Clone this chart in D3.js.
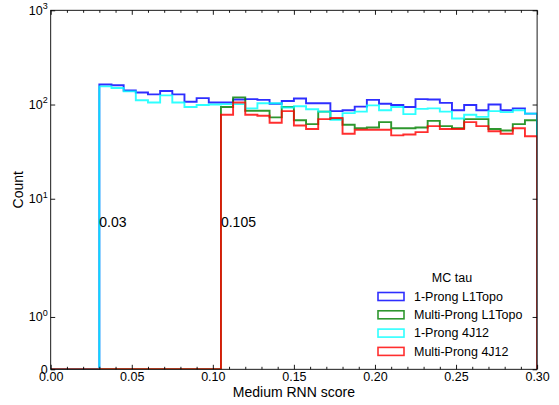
<!DOCTYPE html>
<html>
<head>
<meta charset="utf-8">
<script src="https://cdn.jsdelivr.net/npm/d3@7"></script>
<style>
  html, body { margin: 0; padding: 0; background: #fff; }
  svg { display: block; font-family: "Liberation Sans", Arial, Helvetica, sans-serif; }
</style>
</head>
<body>
<svg id="chart" width="559" height="405"></svg>
<script>
// Histogram binning of the Medium RNN score: 40 bins of width 0.0075 on [0, 0.30]
const scoreMin = 0.0;
const scoreMax = 0.30;
const nBins = 40;

// Per-bin counts (bin 0 starts at score 0.0)
const oneProngL1Topo = [0, 0, 0, 0, 163, 160, 141, 134, 128, 139, 128, 107, 117, 105, 105, 113, 114, 112, 102, 109,
  116, 103, 103, 85, 87, 95, 112, 102, 99, 94, 114, 113, 104, 87, 99, 87, 100, 87, 91, 80];
const multiProngL1Topo = [0, 0, 0, 0, 0, 0, 0, 0, 0, 0, 0, 0, 0, 0, 94, 119, 86, 86, 73, 94,
  68, 62, 84, 70, 61, 56, 57, 65, 56, 56, 57, 67, 59, 56, 70, 70, 55, 53, 62, 68];
const oneProng4J12 = [0, 0, 0, 0, 156, 150, 138, 111, 105, 125, 105, 94, 99, 100, 101, 101, 91, 103, 103, 93,
  96, 89, 84, 69, 81, 84, 98, 87, 94, 79, 90, 91, 84, 71, 78, 74, 85, 83, 87, 80];
const multiProng4J12 = [0, 0, 0, 0, 0, 0, 0, 0, 0, 0, 0, 0, 0, 0, 78, 105, 78, 76, 64, 85,
  60, 55, 70, 72, 49, 54, 54, 54, 47, 48, 51, 59, 55, 55, 65, 59, 52, 49, 56, 46];

const seriesNames = ["1-Prong L1Topo", "Multi-Prong L1Topo", "1-Prong 4J12", "Multi-Prong 4J12"];
const seriesColors = ["#0000ff", "#008000", "#00ffff", "#ff0000"];
const seriesCounts = [oneProngL1Topo, multiProngL1Topo, oneProng4J12, multiProng4J12];
const legendTitle = "MC tau";

// Score cuts annotated on the plot
const cutValues = [0.03, 0.105];
const cutLabels = ["0.03", "0.105"];
const cutLabelCount = 5;

// Axis ticks
const xMajorTicks = [0.00, 0.05, 0.10, 0.15, 0.20, 0.25, 0.30];
const xMinorTicks = d3.range(0, 31).map(i => i / 100).filter(v => Math.round(v * 100) % 5 !== 0);
const yTicks = [0, 1, 10, 100, 1000];
const yTickExponents = [null, 0, 1, 2, 3];
const xLabel = "Medium RNN score";
const yLabel = "Count";

// ---- layout ----
const plot = { left: 50.7, right: 537.1, top: 10.3, bottom: 369.3 };
const svg = d3.select("#chart");

// symmetric-log transform (linear below 2, logarithmic above)
const linthresh = 2;
const linscaleAdj = 1 / (1 - 1 / 10);
function symlog(v) {
  const a = Math.abs(v);
  if (a <= linthresh) return v * linscaleAdj;
  return Math.sign(v) * linthresh * (linscaleAdj + Math.log10(a / linthresh));
}

const x = d3.scaleLinear().domain([scoreMin, scoreMax]).range([plot.left, plot.right]);
const yT = d3.scaleLinear().domain([symlog(0), symlog(1000)]).range([plot.bottom, plot.top]);
const y = v => yT(symlog(v));

const binWidth = (scoreMax - scoreMin) / nBins;
const edges = d3.range(nBins + 1).map(i => scoreMin + i * binWidth);

// clip
svg.append("defs").append("clipPath").attr("id", "plotClip")
  .append("rect")
  .attr("x", plot.left).attr("y", plot.top)
  .attr("width", plot.right - plot.left).attr("height", plot.bottom - plot.top);

// step outlines
function stepPoints(counts) {
  const pts = [[edges[0], 0]];
  counts.forEach((c, i) => {
    pts.push([edges[i], c]);
    pts.push([edges[i + 1], c]);
  });
  pts.push([edges[nBins], 0]);
  return pts;
}
const line = d3.line().x(d => x(d[0])).y(d => y(d[1]));

const gHist = svg.append("g").attr("clip-path", "url(#plotClip)");
seriesCounts.forEach((counts, i) => {
  gHist.append("path")
    .attr("d", line(stepPoints(counts)))
    .attr("fill", "none")
    .attr("stroke", seriesColors[i])
    .attr("stroke-opacity", 0.82)
    .attr("stroke-width", 1.9)
    .attr("stroke-linejoin", "miter");
});

// cut annotations
svg.append("g").selectAll("text").data(cutValues).join("text")
  .attr("x", d => x(d))
  .attr("y", y(cutLabelCount))
  .attr("font-size", 14)
  .attr("fill", "#000")
  .text((d, i) => cutLabels[i]);

// ---- axes (ticks point inward) ----
const axisStyle = g => {
  g.select(".domain").remove();
  g.selectAll(".tick line").attr("stroke", "#000").attr("stroke-width", 0.9);
};

svg.append("g").attr("transform", `translate(0,${plot.bottom})`)
  .call(d3.axisBottom(x).tickValues(xMajorTicks).tickSize(-4.5).tickPadding(2.6)
    .tickFormat(d3.format(".2f")))
  .call(axisStyle)
  .call(g => g.selectAll("text").attr("font-size", 12.5).attr("fill", "#000")
    .attr("font-family", "Liberation Sans, Arial, sans-serif"));
svg.append("g").attr("transform", `translate(0,${plot.bottom})`)
  .call(d3.axisBottom(x).tickValues(xMinorTicks).tickSize(-2.5).tickFormat(""))
  .call(axisStyle);
svg.append("g").attr("transform", `translate(0,${plot.top})`)
  .call(d3.axisTop(x).tickValues(xMajorTicks).tickSize(-4.5).tickFormat(""))
  .call(axisStyle);
svg.append("g").attr("transform", `translate(0,${plot.top})`)
  .call(d3.axisTop(x).tickValues(xMinorTicks).tickSize(-2.5).tickFormat(""))
  .call(axisStyle);

svg.append("g").attr("transform", `translate(${plot.left},0)`)
  .call(d3.axisLeft(yT).tickValues(yTicks.map(symlog)).tickSize(-4.5).tickFormat(""))
  .call(axisStyle);
svg.append("g").attr("transform", `translate(${plot.right},0)`)
  .call(d3.axisRight(yT).tickValues(yTicks.map(symlog)).tickSize(-4.5).tickFormat(""))
  .call(axisStyle);

// y tick labels with exponents
const yLab = svg.append("g").attr("font-size", 12.5).attr("fill", "#000").attr("text-anchor", "end");
yTicks.forEach((v, i) => {
  const ty = y(v);
  const t = yLab.append("text").attr("x", plot.left - 3).attr("y", ty + 4.4);
  if (yTickExponents[i] === null) {
    t.text("0");
  } else {
    t.append("tspan").text("10");
    t.append("tspan").attr("font-size", 9).attr("dy", -5.5).text(yTickExponents[i]);
  }
});

// frame
svg.append("rect")
  .attr("x", plot.left).attr("y", plot.top)
  .attr("width", plot.right - plot.left).attr("height", plot.bottom - plot.top)
  .attr("fill", "none").attr("stroke", "#000").attr("stroke-width", 0.9);

// axis titles
svg.append("text")
  .attr("x", (plot.left + plot.right) / 2).attr("y", 397)
  .attr("text-anchor", "middle").attr("font-size", 14).attr("fill", "#000")
  .text(xLabel);
svg.append("text")
  .attr("transform", `translate(23,${(plot.top + plot.bottom) / 2}) rotate(-90)`)
  .attr("text-anchor", "middle").attr("font-size", 14).attr("fill", "#000")
  .text(yLabel);

// ---- legend ----
const legend = svg.append("g").attr("font-size", 12.5).attr("fill", "#000");
legend.append("text").attr("x", 452).attr("y", 281.5).attr("text-anchor", "middle").text(legendTitle);
const rowY = d3.scaleLinear().domain([0, 1]).range([296.5, 314.8]);
seriesNames.forEach((name, i) => {
  const cy = rowY(i);
  legend.append("rect")
    .attr("x", 378).attr("y", cy - 4).attr("width", 26).attr("height", 8)
    .attr("fill", "none").attr("stroke", seriesColors[i])
    .attr("stroke-opacity", 0.82).attr("stroke-width", 1.6);
  legend.append("text").attr("x", 414).attr("y", cy + 4.3).text(name);
});
</script>
</body>
</html>
